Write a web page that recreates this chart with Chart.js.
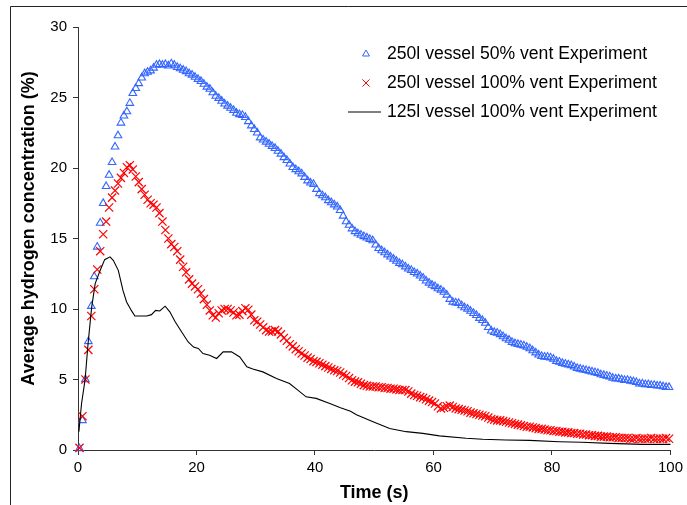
<!DOCTYPE html>
<html><head><meta charset="utf-8">
<script src="https://cdn.jsdelivr.net/npm/chart.js@4.4.1/dist/chart.umd.min.js"></script>
<style>html,body{margin:0;padding:0;background:#fff;}#wrap{width:687px;height:505px;}</style>
</head><body><div id="wrap"><canvas id="c" width="687" height="505"></canvas></div>
<script>
const seriesLabels = ['250l vessel 50% vent Experiment', '250l vessel 100% vent Experiment', '125l vessel 100% vent Experiment'];
const xTitle = 'Time (s)';
const yTitle = 'Average hydrogen concentration (%)';
const xTicks = [0, 20, 40, 60, 80, 100];
const yTicks = [0, 5, 10, 15, 20, 25, 30];
// marker series sampled every 0.5 s starting at 0.25 s
const sampleStart = 0.25, sampleStep = 0.5;
const vessel250Vent50 = [
0.1,2.1,5.0,7.7,10.2,12.3,14.4,16.1,17.5,18.7,19.5,20.4,21.5,22.3,23.2,23.7,24.0,24.6,25.3,25.65,
26.0,26.4,26.7,26.8,26.9,27.1,27.3,27.35,27.3,27.35,27.25,27.4,27.3,27.15,27.05,26.95,26.85,26.7,26.6,26.45,
26.3,26.15,25.95,25.75,25.6,25.35,25.1,24.95,24.75,24.55,24.4,24.25,24.1,23.9,23.8,23.75,23.6,23.3,23.0,22.75,
22.5,22.15,22.0,21.85,21.7,21.55,21.4,21.2,21.0,20.75,20.55,20.3,20.05,19.9,19.75,19.6,19.35,19.1,18.95,18.85,
18.5,18.2,18.05,17.9,17.7,17.55,17.4,17.25,17.0,16.6,16.2,15.95,15.7,15.5,15.35,15.25,15.15,15.05,14.95,14.85,
14.55,14.3,14.15,14.0,13.85,13.7,13.55,13.4,13.25,13.15,13.0,12.85,12.75,12.6,12.5,12.35,12.2,12.0,11.85,11.7,
11.6,11.45,11.35,11.2,11.0,10.7,10.5,10.45,10.4,10.25,10.1,10.0,9.85,9.7,9.55,9.35,9.2,9.0,8.7,8.45,
8.35,8.3,8.2,8.05,7.9,7.8,7.65,7.55,7.5,7.45,7.4,7.3,7.2,7.05,6.9,6.75,6.65,6.6,6.6,6.55,
6.45,6.3,6.25,6.15,6.1,6.05,6.0,5.9,5.8,5.75,5.7,5.65,5.6,5.55,5.5,5.45,5.35,5.3,5.25,5.2,
5.1,5.05,5.05,5.0,4.95,4.95,4.9,4.85,4.8,4.7,4.7,4.65,4.65,4.6,4.6,4.55,4.55,4.5,4.45,4.45];
const vessel250Vent100 = [
0.15,2.4,5.0,7.1,9.5,11.4,12.8,14.1,15.3,16.2,17.2,17.9,18.4,18.9,19.3,19.65,20.05,20.2,19.9,19.4,
19.0,18.5,18.1,17.75,17.5,17.4,17.2,16.8,16.2,15.6,15.0,14.6,14.4,14.1,13.5,13.0,12.6,12.1,11.8,11.6,
11.4,11.1,10.7,10.3,9.9,9.55,9.4,9.7,9.9,10.0,10.0,9.9,9.75,9.55,9.6,9.85,10.05,9.95,9.6,9.2,
9.1,8.9,8.7,8.5,8.4,8.4,8.5,8.4,8.2,7.95,7.75,7.5,7.35,7.15,7.0,6.85,6.7,6.55,6.45,6.3,
6.25,6.15,6.05,5.95,5.85,5.75,5.65,5.6,5.5,5.35,5.25,5.1,4.95,4.85,4.8,4.7,4.6,4.55,4.5,4.5,
4.5,4.45,4.45,4.4,4.4,4.35,4.35,4.3,4.25,4.25,4.25,4.15,4.0,3.9,3.85,3.75,3.7,3.6,3.5,3.4,
3.3,3.1,2.95,3.0,3.1,3.15,3.05,2.95,2.9,2.85,2.8,2.75,2.65,2.6,2.55,2.5,2.45,2.4,2.3,2.2,
2.15,2.1,2.1,2.05,2.0,1.95,1.9,1.85,1.8,1.75,1.7,1.65,1.65,1.6,1.55,1.5,1.5,1.45,1.4,1.4,
1.35,1.35,1.3,1.3,1.25,1.25,1.2,1.2,1.15,1.15,1.1,1.1,1.05,1.05,1.0,1.0,0.95,0.95,0.95,0.9,
0.9,0.9,0.85,0.85,0.85,0.85,0.8,0.8,0.85,0.8,0.8,0.8,0.8,0.85,0.8,0.8,0.8,0.8,0.85,0.8];
const vessel125Time = [0.15,0.6,1.2,1.7,2.3,2.9,3.7,4.5,5.4,5.95,6.8,7.6,8.2,9.0,9.6,10.5,11.6,12.4,13.1,13.8,
14.7,15.5,16.4,17.5,18.6,19.5,20.3,21.1,22.2,23.4,24.5,25.9,27.3,28.5,29.5,31.2,33.5,35.7,37.1,38.5,
40.2,42.5,44.3,46.0,47.0,49.8,52.6,55.4,58.2,61.0,65.5,68.3,72.2,76.2,81.2,85.0,89.7,95.3,100];
const vessel125Vent100 = [1.3,3.3,5.0,7.55,10.1,11.8,12.7,13.5,13.7,13.45,12.74,11.3,10.5,9.9,9.5,9.5,9.5,9.6,9.9,9.86,
10.2,9.8,9.1,8.37,7.66,7.3,7.2,6.84,6.72,6.49,6.96,6.96,6.6,5.9,5.75,5.54,5.07,4.72,4.25,3.77,
3.66,3.3,3.0,2.75,2.5,2.0,1.53,1.3,1.18,1.0,0.83,0.76,0.71,0.68,0.59,0.55,0.47,0.4,0.4];

const toPts = vals => vals.map((v, i) => ({x: sampleStart + i * sampleStep, y: v}));
const FONT = "'Liberation Sans', Arial, sans-serif";
Chart.defaults.font.family = FONT;
Chart.defaults.color = '#000';

const BLUE = '#3366ff', RED = '#ff0000';

const framePlugin = {
  id: 'frame',
  beforeDraw(chart) {
    const ctx = chart.ctx;
    ctx.save();
    ctx.fillStyle = '#fff';
    ctx.fillRect(0, 0, chart.width, chart.height);
    ctx.strokeStyle = '#222';
    ctx.lineWidth = 1;
    ctx.beginPath();
    ctx.moveTo(10.5, chart.height);
    ctx.lineTo(10.5, 6.5);
    ctx.lineTo(chart.width, 6.5);
    ctx.stroke();
    ctx.restore();
  }
};

const legendPlugin = {
  id: 'customLegend',
  afterDraw(chart) {
    const ctx = chart.ctx;
    const rows = [54, 83, 112];
    const mx = 366, tx = 387;
    ctx.save();
    chart.data.datasets.forEach((ds, i) => {
      const y = rows[i];
      ctx.strokeStyle = ds.borderColor;
      ctx.lineWidth = 1;
      ctx.beginPath();
      if (ds.pointStyle === 'triangle') {
        const r = 4;
        ctx.moveTo(mx, y - r);
        ctx.lineTo(mx + r * 0.866, y + r * 0.5);
        ctx.lineTo(mx - r * 0.866, y + r * 0.5);
        ctx.closePath();
      } else if (ds.pointStyle === 'crossRot') {
        const r = 3.6;
        ctx.moveTo(mx - r, y - r); ctx.lineTo(mx + r, y + r);
        ctx.moveTo(mx + r, y - r); ctx.lineTo(mx - r, y + r);
      } else {
        ctx.lineWidth = 1.1;
        ctx.moveTo(348, y); ctx.lineTo(381, y);
      }
      ctx.stroke();
      ctx.fillStyle = '#000';
      ctx.font = '17.6px ' + FONT;
      ctx.textBaseline = 'middle';
      ctx.textAlign = 'left';
      ctx.fillText(ds.label, tx, y);
    });
    ctx.restore();
  }
};

new Chart(document.getElementById('c'), {
  type: 'scatter',
  data: {
    datasets: [
      {label: seriesLabels[0], data: toPts(vessel250Vent50), pointStyle: 'triangle', pointRadius: 4.4,
       borderColor: BLUE, pointBorderColor: BLUE, backgroundColor: 'rgba(0,0,0,0)', pointBackgroundColor: 'rgba(0,0,0,0)',
       pointBorderWidth: 1.1, showLine: false, order: 2, clip: false},
      {label: seriesLabels[1], data: toPts(vessel250Vent100), pointStyle: 'crossRot', pointRadius: 5.8,
       borderColor: RED, pointBorderColor: RED, backgroundColor: RED, pointBackgroundColor: RED,
       pointBorderWidth: 1.2, showLine: false, order: 1, clip: false},
      {label: seriesLabels[2], data: vessel125Time.map((t, i) => ({x: t, y: vessel125Vent100[i]})), pointRadius: 0,
       borderColor: '#000', backgroundColor: '#000', borderWidth: 1.1, showLine: true, tension: 0, order: 0, clip: false}
    ]
  },
  options: {
    responsive: false,
    animation: false,
    events: [],
    devicePixelRatio: 1,
    layout: {padding: {left: 0, top: 27, right: 16, bottom: 0}},
    plugins: {legend: {display: false}, tooltip: {enabled: false}},
    scales: {
      x: {
        type: 'linear', min: 0, max: 100,
        afterBuildTicks: s => { s.ticks = xTicks.map(v => ({value: v})); },
        afterFit: s => { s.height = 55; },
        ticks: {font: {size: 15}, color: '#000', padding: 4, maxRotation: 0, autoSkip: false},
        grid: {drawOnChartArea: false, drawTicks: true, tickLength: 5, tickColor: '#333'},
        border: {color: '#333', width: 1},
        title: {display: true, text: xTitle, color: '#000', font: {size: 18, weight: 'bold'}, padding: {top: 0, bottom: 1}}
      },
      y: {
        type: 'linear', min: 0, max: 30,
        afterBuildTicks: s => { s.ticks = yTicks.map(v => ({value: v})); },
        afterFit: s => { s.width = 78; },
        ticks: {font: {size: 15}, color: '#000', padding: 6, autoSkip: false},
        grid: {drawOnChartArea: false, drawTicks: true, tickLength: 5, tickColor: '#333'},
        border: {color: '#333', width: 1},
        title: {display: true, text: '    ' + yTitle, color: '#000', font: {size: 18, weight: 'bold'}, padding: {top: 18, bottom: 0}}
      }
    }
  },
  plugins: [framePlugin, legendPlugin]
});
</script>
</body></html>
